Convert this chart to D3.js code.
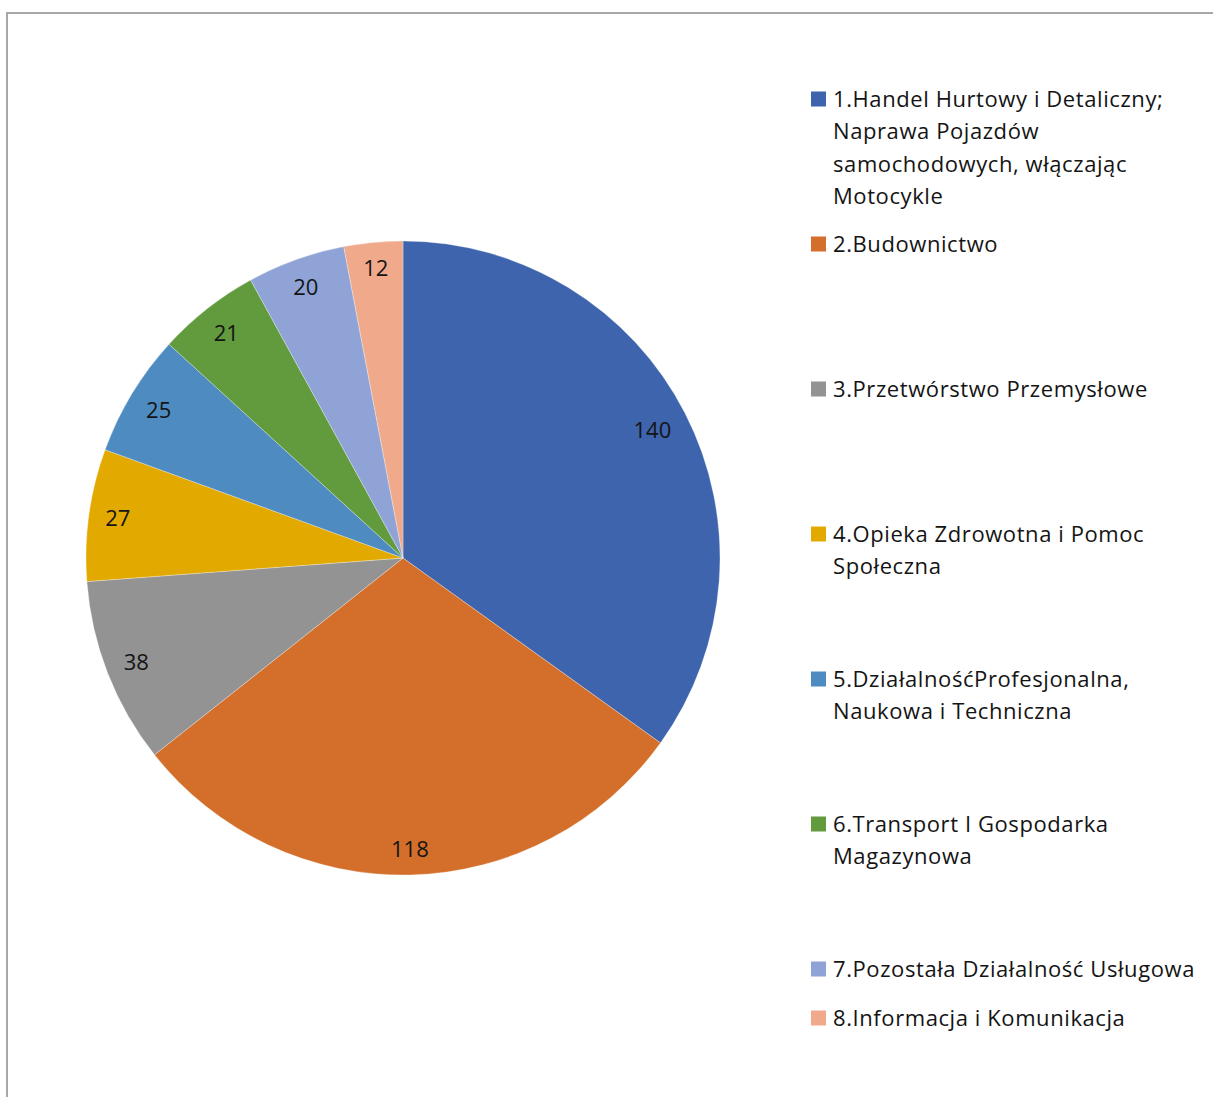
<!DOCTYPE html>
<html>
<head>
<meta charset="utf-8">
<script src="https://cdn.jsdelivr.net/npm/d3@7"></script>
<style>
  html, body { margin: 0; padding: 0; background: #fff; }
  svg { display: block; }
  text { font-family: "Open Sans", "Noto Sans", sans-serif; fill: #141414; }
</style>
</head>
<body>
<svg id="chart" width="1213" height="1097"></svg>
<script>
// Liczba podmiotów według sekcji działalności
const categories = [
  "1.Handel Hurtowy i Detaliczny; Naprawa Pojazdów samochodowych, włączając Motocykle",
  "2.Budownictwo",
  "3.Przetwórstwo Przemysłowe",
  "4.Opieka Zdrowotna i Pomoc Społeczna",
  "5.DziałalnośćProfesjonalna, Naukowa i Techniczna",
  "6.Transport I Gospodarka Magazynowa",
  "7.Pozostała Działalność Usługowa",
  "8.Informacja i Komunikacja"
];
const values = [140, 118, 38, 27, 25, 21, 20, 12];
const colors = ["#3d64ad", "#d46f2b", "#939393", "#e2a900", "#4e8bc0", "#629a3e", "#8fa3d6", "#f0a98b"];

const svg = d3.select("#chart");
const W = 1213, H = 1097;

// outer frame (open on the right and bottom edges)
svg.append("path")
  .attr("d", `M7,${H + 5} L7,13 L${W + 5},13`)
  .attr("fill", "none")
  .attr("stroke", "#a8a8a8")
  .attr("stroke-width", 2);

const cx = 403, cy = 558, R = 317;
const data = categories.map((c, i) => ({ name: c, value: values[i], color: colors[i] }));

const pie = d3.pie().value(d => d.value).sort(null);
const arc = d3.arc().innerRadius(0).outerRadius(R);
const arcs = pie(data);

const g = svg.append("g").attr("transform", `translate(${cx},${cy})`);
g.selectAll("path.slice")
  .data(arcs)
  .enter().append("path")
  .attr("class", "slice")
  .attr("d", arc)
  .attr("fill", d => d.data.color)
  .attr("stroke", "#ffffff")
  .attr("stroke-opacity", 0.5)
  .attr("stroke-width", 0.6);

// value labels placed at the inside end of each slice
const labelFont = 22;
const labels = g.selectAll("text.val")
  .data(arcs)
  .enter().append("text")
  .attr("class", "val")
  .attr("font-size", labelFont)
  .attr("text-anchor", "middle")
  .attr("dy", "0.35em")
  .text(d => d.data.value);

labels.each(function (d) {
  const bb = this.getBBox();
  const hw = bb.width / 2 + 1, hh = labelFont * 0.5;
  const a = (d.startAngle + d.endAngle) / 2;
  const sx = Math.sin(a), sy = -Math.cos(a);
  const target = R - 14;
  // find distance so that the outermost box corner touches the target radius
  let lo = 0, hi = R;
  for (let k = 0; k < 40; k++) {
    const m = (lo + hi) / 2;
    const px = m * sx + hw * Math.sign(sx);
    const py = m * sy + hh * Math.sign(sy);
    if (Math.hypot(px, py) > target) hi = m; else lo = m;
  }
  d3.select(this).attr("x", lo * sx).attr("y", lo * sy);
});

// legend
const legendX = 811, textX = 833, maxTextW = 370, lineH = 32.5;
const legendFirstY = 99, legendStep = 145, legendTailGap = 49;
const legendFont = 22;

const legend = svg.append("g");
// letter spacing so the longest single-line entry spans 362px
const probe = legend.append("text").attr("font-size", legendFont).text(categories[6]);
const probeW = probe.node().getComputedTextLength();
probe.remove();
const spacing = Math.max(0, (362 - probeW) / categories[6].length);

function wrap(str) {
  const words = str.split(" ");
  const lines = [];
  let cur = "";
  const t = legend.append("text").attr("font-size", legendFont).attr("letter-spacing", spacing);
  words.forEach(w => {
    const test = cur ? cur + " " + w : w;
    t.text(test);
    if (t.node().getComputedTextLength() > maxTextW && cur) {
      lines.push(cur);
      cur = w;
    } else {
      cur = test;
    }
  });
  if (cur) lines.push(cur);
  t.remove();
  return lines;
}

data.forEach((d, i) => {
  const y = i < data.length - 1 ? legendFirstY + legendStep * i
                                : legendFirstY + legendStep * (i - 1) + legendTailGap;
  legend.append("rect")
    .attr("x", legendX).attr("y", y - 7.5)
    .attr("width", 15).attr("height", 15)
    .attr("fill", d.color);
  const lines = wrap(d.name);
  const t = legend.append("text")
    .attr("font-size", legendFont)
    .attr("letter-spacing", spacing)
    .attr("x", textX).attr("y", y);
  lines.forEach((ln, k) => {
    t.append("tspan")
      .attr("x", textX)
      .attr("y", y + k * lineH)
      .attr("dy", "0.35em")
      .text(ln);
  });
});
</script>
</body>
</html>
